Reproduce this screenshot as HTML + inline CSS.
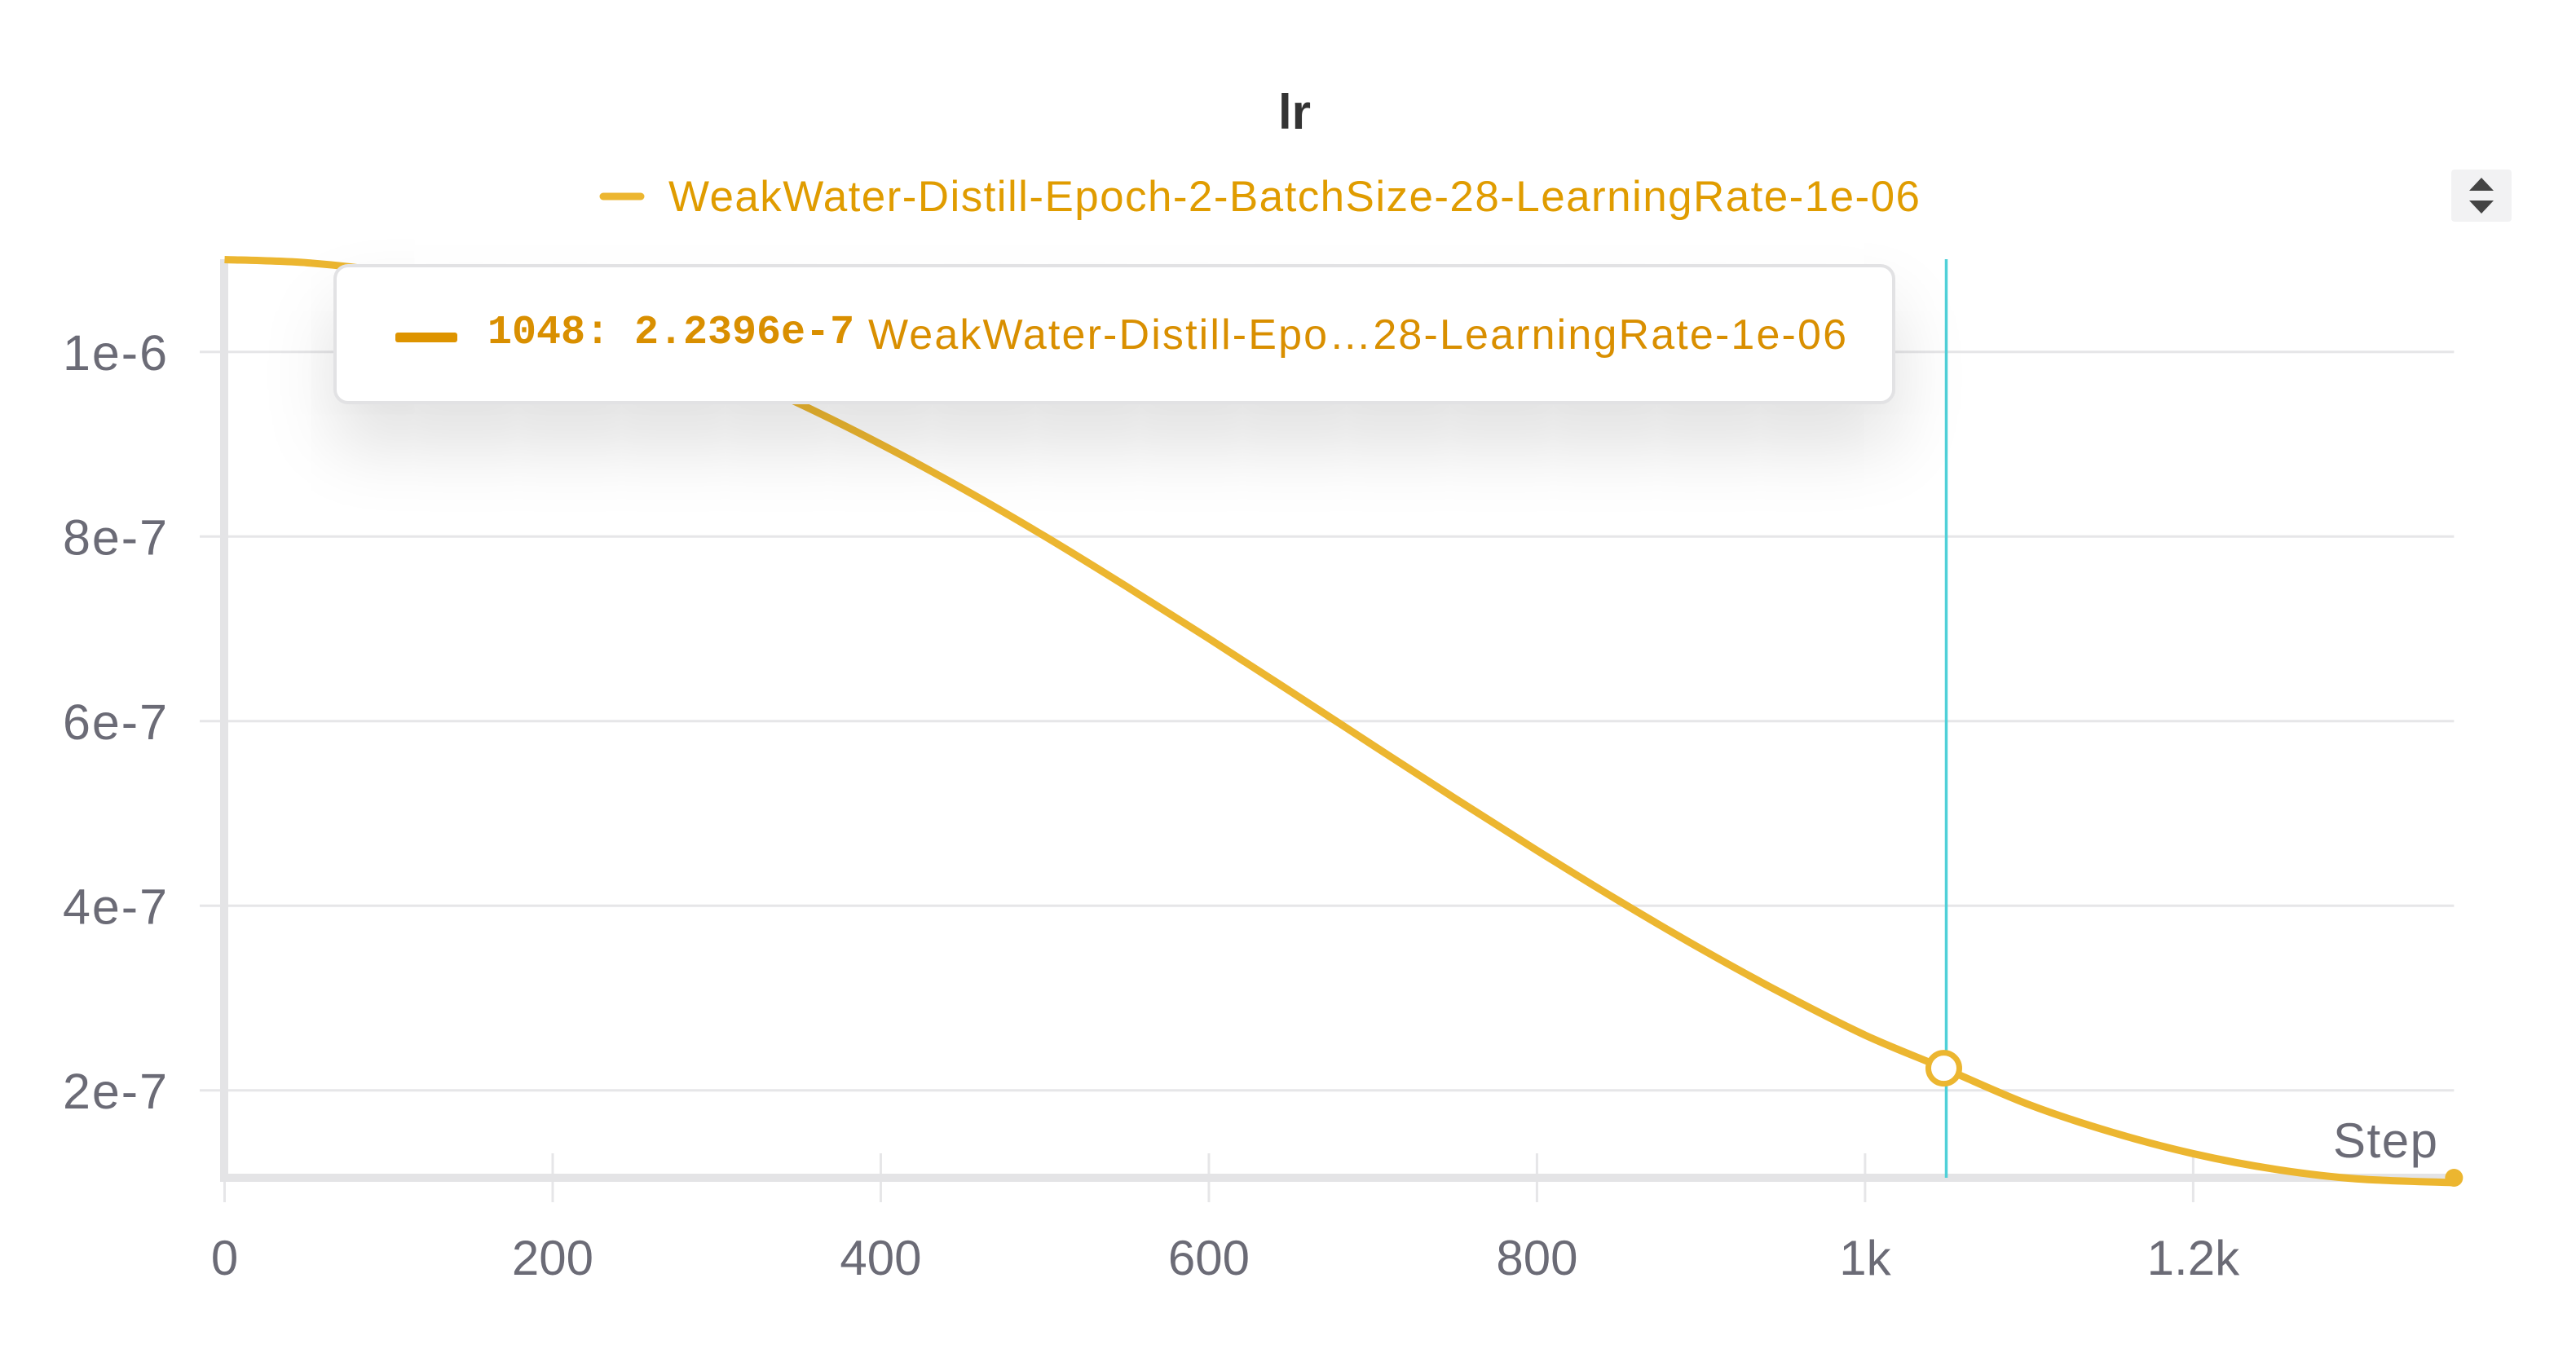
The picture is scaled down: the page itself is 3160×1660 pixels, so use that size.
<!DOCTYPE html>
<html><head><meta charset="utf-8"><style>
html,body{margin:0;padding:0;background:#fff;}
#wrap{position:relative;width:3160px;height:1660px;overflow:hidden;font-family:"Liberation Sans",sans-serif;}
svg{position:absolute;left:0;top:0;}
#tip{position:absolute;left:409px;top:324px;width:1916px;height:172px;box-sizing:border-box;border:4px solid #e2e2e4;border-radius:18px;background:#fff;box-shadow:0 50px 90px rgba(0,0,0,0.13);}
#tip .sw{position:absolute;left:72px;top:80px;width:76px;height:12px;border-radius:3px;background:#de9400;}
#tip .val{position:absolute;left:185px;top:52px;font:bold 50px "Liberation Mono",monospace;color:#d98f00;white-space:nowrap;}
#tip svg{position:absolute;left:0;top:0;}
#scroll{position:absolute;left:3007px;top:208px;width:74px;height:64px;background:#f2f2f3;border-radius:4px;}
</style></head><body>
<div id="wrap">
<svg id="chart" width="3160" height="1660"></svg>
<div id="tip">
  <div class="sw"></div>
  <div class="val">1048: 2.2396e-7</div>
  <svg width="1916" height="172"><text x="652" y="100" font-size="52" fill="#d98f00" font-family="Liberation Sans, sans-serif" textLength="1200">WeakWater-Distill-Epo…28-LearningRate-1e-06</text></svg>
</div>
<div id="scroll">
  <svg width="74" height="64"><polygon points="22,26 52,26 37,10" fill="#444"/><polygon points="22,38 52,38 37,54" fill="#444"/></svg>
</div>
</div>
<script>
const steps = [0,50,100,150,200,250,300,350,400,450,500,550,600,650,700,750,800,850,900,950,1000,1048,1100,1150,1200,1250,1300,1359];
const lrValues = [1.1,1.0966,1.0866,1.0701,1.0472,1.0183,0.9838,0.9442,0.9,0.8518,0.8002,0.7456,0.6894,0.6319,0.5739,0.5163,0.4599,0.4053,0.3533,0.3046,0.2598,0.22396,0.1845,0.1549,0.1314,0.1145,0.1041,0.1];
const xTicks = [0,200,400,600,800,1000,1200];
const xTickLabels = ["0","200","400","600","800","1k","1.2k"];
const yTicks = [0.2,0.4,0.6,0.8,1.0];
const yTickLabels = ["2e-7","4e-7","6e-7","8e-7","1e-6"];
const hoverStep = 1048;
const hoverValue = 0.22396;
const runName = "WeakWater-Distill-Epoch-2-BatchSize-28-LearningRate-1e-06";

const X0=275.5, XK=2.0124, Y0=1451, YK=226.5/0.2, YMIN=0.1;
const xs = s => X0 + s*XK;
const ys = v => Y0 - (v-YMIN)*YK;
const NS="http://www.w3.org/2000/svg";
const svg=document.getElementById('chart');
function mk(tag,attrs,parent){const e=document.createElementNS(NS,tag);for(const k in attrs)e.setAttribute(k,attrs[k]);(parent||svg).appendChild(e);return e;}
const xEnd = xs(steps[steps.length-1]);

let t=mk('text',{x:1588,y:158,'text-anchor':'middle','font-size':60,'font-weight':'bold',fill:'#333','font-family':'Liberation Sans, sans-serif'});
t.textContent='lr';



let lg=mk('line',{x1:740,y1:241,x2:786,y2:241,stroke:'#ecb630','stroke-width':9,'stroke-linecap':'round'});


t=mk('text',{x:820,y:259,'font-size':53,fill:'#e09c00','font-family':'Liberation Sans, sans-serif',textLength:1535});
t.textContent=runName;



yTicks.forEach((v,i)=>{
  const y=ys(v);
  let g=mk('line',{x1:245,y1:y,x2:xEnd,y2:y,stroke:'#e6e6e8','stroke-width':3});
  
  
  let l=mk('text',{x:205,y:y+22,'text-anchor':'end','font-size':61,fill:'#6b6b76','font-family':'Liberation Sans, sans-serif',textLength:128});
  l.textContent=yTickLabels[i];
  
  
});
xTicks.forEach((s,i)=>{
  const x=xs(s);
  let g=mk('line',{x1:x,y1:1415,x2:x,y2:1475,stroke:'#e6e6e8','stroke-width':3});
  
  
  let l=mk('text',{x:x,y:1564,'text-anchor':'middle','font-size':60,fill:'#6b6b76','font-family':'Liberation Sans, sans-serif'});
  l.textContent=xTickLabels[i];
  
  
});
let ax=mk('line',{x1:275,y1:318,x2:275,y2:1450,stroke:'#e4e4e6','stroke-width':10});


ax=mk('line',{x1:275,y1:1445,x2:xEnd,y2:1445,stroke:'#e4e4e6','stroke-width':10});


t=mk('text',{x:2990,y:1420,'text-anchor':'end','font-size':60,fill:'#6b6b76','font-family':'Liberation Sans, sans-serif',textLength:128});
t.textContent='Step';



const pts=steps.map((s,i)=>[xs(s),ys(lrValues[i])]);
let d='M'+pts[0][0]+','+pts[0][1];
for(let i=0;i<pts.length-1;i++){
  const p0=pts[Math.max(0,i-1)],p1=pts[i],p2=pts[i+1],p3=pts[Math.min(pts.length-1,i+2)];
  const c1=[p1[0]+(p2[0]-p0[0])/6,p1[1]+(p2[1]-p0[1])/6];
  const c2=[p2[0]-(p3[0]-p1[0])/6,p2[1]-(p3[1]-p1[1])/6];
  d+=' C'+c1[0]+','+c1[1]+' '+c2[0]+','+c2[1]+' '+p2[0]+','+p2[1];
}
let ln=mk('path',{d:d,fill:'none',stroke:'#ecb630','stroke-width':9,'stroke-linejoin':'round'});


let ed=mk('circle',{cx:pts[pts.length-1][0],cy:1445,r:11,fill:'#ecb630'});



let cur=mk('line',{x1:xs(hoverStep)+3,y1:318,x2:xs(hoverStep)+3,y2:1445,stroke:'#4fd0d8','stroke-width':3.5});


let hc=mk('circle',{cx:xs(hoverStep),cy:ys(hoverValue),r:19,fill:'#fff',stroke:'#ecb630','stroke-width':7});


</script>
</body></html>
